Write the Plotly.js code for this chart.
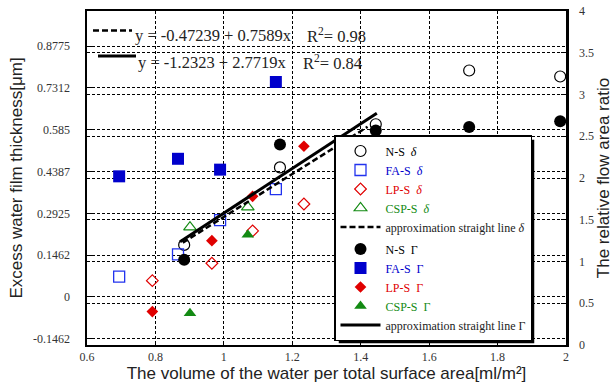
<!DOCTYPE html>
<html>
<head>
<meta charset="utf-8">
<script src="https://cdn.plot.ly/plotly-3.0.1.min.js"></script>
<style>html,body{margin:0;padding:0;background:#fff;}#chart{width:613px;height:388px;}</style>
</head>
<body>
<div id="chart"></div>
<script>
// ---- data ----
const nsX = [0.884, 1.164, 1.444, 1.717, 1.983];
const nsDelta = [0.182, 0.453, 0.604, 0.792, 0.771];
const nsGamma = [1.02, 2.40, 2.57, 2.61, 2.68];

const faX = [0.694, 0.866, 0.989, 1.152];
const faDelta = [0.071, 0.149, 0.269, 0.377];
const faGamma = [2.02, 2.23, 2.10, 3.15];

const lpX = [0.791, 0.965, 1.084, 1.234];
const lpDelta = [0.057, 0.118, 0.231, 0.325];
const lpGamma = [0.40, 1.25, 1.78, 2.38];

const cspX = [0.901, 1.070];
const cspDelta = [0.244, 0.314];
const cspGamma = [0.38, 1.32];

const fitDeltaX = [0.88, 1.42];
const fitDeltaY = [0.19, 0.595];
const fitGammaX = [0.872, 1.447];
const fitGammaY = [1.237, 2.775];

const leftTickVals = [-0.14625, 0, 0.14625, 0.2925, 0.43875, 0.585, 0.73125, 0.8775];
const leftTickText = ['-0.1462', '0', '0.1462', '0.2925', '0.4387', '0.585', '0.7312', '0.8775'];

const eq1 = 'y = -0.47239 + 0.7589x';
const eq2 = 'y = -1.2323 + 2.7719x';
const r1 = 'R<sup>2</sup>= 0.98';
const r2 = 'R<sup>2</sup>= 0.84';

// ---- styles ----
const BLUE = '#0000cc', RED = '#e00000', GREEN = '#138a13', BLACK = '#000000';
const NB = '\u00a0';
function nm(label, sym, color) {
  return '<span style="color:' + color + '">' + label + NB + NB + sym + '</span>';
}
const dSym = '<i>δ</i>', gSym = 'Γ';

const data = [
  {x: nsX, y: nsDelta, yaxis: 'y', type: 'scatter', mode: 'markers', name: nm('N-S', dSym, BLACK), legendgroup: 'd',
   marker: {symbol: 'circle-open', size: 11, color: BLACK, line: {width: 1.2}}},
  {x: faX, y: faDelta, yaxis: 'y', type: 'scatter', mode: 'markers', name: nm('FA-S', dSym, BLUE), legendgroup: 'd',
   marker: {symbol: 'square-open', size: 11, color: '#2233ee', line: {width: 1.3}}},
  {x: lpX, y: lpDelta, yaxis: 'y', type: 'scatter', mode: 'markers', name: nm('LP-S', dSym, RED), legendgroup: 'd',
   marker: {symbol: 'diamond-open', size: 9, color: RED, line: {width: 1.2}}},
  {x: cspX, y: cspDelta, yaxis: 'y', type: 'scatter', mode: 'markers', name: nm('CSP-S', dSym, GREEN), legendgroup: 'd',
   marker: {symbol: 'triangle-up-open', size: 11, color: GREEN, line: {width: 1.2}}},
  {x: fitDeltaX, y: fitDeltaY, yaxis: 'y', type: 'scatter', mode: 'lines', name: 'approximation straight line' + NB + dSym, legendgroup: 'd',
   line: {color: BLACK, width: 2.5, dash: '6px,3px'}},
  {x: nsX, y: nsGamma, yaxis: 'y2', type: 'scatter', mode: 'markers', name: nm('N-S', gSym, BLACK), legendgroup: 'g',
   marker: {symbol: 'circle', size: 12, color: BLACK}},
  {x: faX, y: faGamma, yaxis: 'y2', type: 'scatter', mode: 'markers', name: nm('FA-S', gSym, BLUE), legendgroup: 'g',
   marker: {symbol: 'square', size: 12, color: BLUE}},
  {x: lpX, y: lpGamma, yaxis: 'y2', type: 'scatter', mode: 'markers', name: nm('LP-S', gSym, RED), legendgroup: 'g',
   marker: {symbol: 'diamond', size: 9, color: RED}},
  {x: cspX, y: cspGamma, yaxis: 'y2', type: 'scatter', mode: 'markers', name: nm('CSP-S', gSym, GREEN), legendgroup: 'g',
   marker: {symbol: 'triangle-up', size: 11, color: GREEN}},
  {x: fitGammaX, y: fitGammaY, yaxis: 'y2', type: 'scatter', mode: 'lines', name: 'approximation straight line' + NB + gSym, legendgroup: 'g',
   line: {color: BLACK, width: 3}}
];

const L = 87, R = 566, T = 11, B = 345;
const px = v => (v - L) / (R - L);
const py = v => (B - v) / (B - T);

const gridStyle = {showgrid: true, gridcolor: '#000', gridwidth: 1, griddash: '3px,2px'};
const tickFont = {family: 'Liberation Serif, Times New Roman, serif', size: 12, color: '#333'};
const titleFont = {family: 'Liberation Sans, Arial, sans-serif', size: 17, color: '#222'};

const baseShapes = [
  {type: 'line', xref: 'paper', yref: 'paper', x0: px(93), x1: px(132), y0: py(30.5), y1: py(30.5),
   line: {color: '#000', width: 2.5, dash: '6px,3px'}},
  {type: 'line', xref: 'paper', yref: 'paper', x0: px(98), x1: px(136), y0: py(56), y1: py(56),
   line: {color: '#000', width: 3}}
];

const annFont = {family: 'Liberation Serif, Times New Roman, serif', size: 16.5, color: '#222'};
const layout = {
  width: 613, height: 388,
  margin: {l: L, r: 613 - R, t: T, b: 388 - B},
  paper_bgcolor: '#fff', plot_bgcolor: '#fff',
  showlegend: true,
  font: {family: 'Liberation Serif, Times New Roman, serif', size: 12, color: '#222'},
  xaxis: Object.assign({
    range: [0.6, 2.0], tick0: 0.6, dtick: 0.2, zeroline: false,
    showline: true, mirror: true, linecolor: '#000', linewidth: 2,
    ticks: 'inside', ticklen: 4, tickcolor: '#000', tickfont: tickFont,
    title: {text: 'The volume of the water per total surface area[ml/m²]', font: titleFont, standoff: 4}
  }, gridStyle),
  yaxis: Object.assign({
    range: [-0.168, 1.0], tickmode: 'array', tickvals: leftTickVals, ticktext: leftTickText, zeroline: false,
    showline: true, linecolor: '#000', linewidth: 2.5,
    ticks: 'inside', ticklen: 5, tickcolor: '#000', tickfont: tickFont, ticklabelstandoff: 12,
    title: {text: 'Excess water film thickness[μm]', font: titleFont, standoff: 6}
  }, gridStyle),
  yaxis2: Object.assign({
    overlaying: 'y', side: 'right', range: [0, 4], dtick: 0.5, zeroline: false,
    showline: true, linecolor: '#000', linewidth: 2.5,
    ticks: 'inside', ticklen: 5, tickcolor: '#000', tickfont: tickFont, ticklabelstandoff: 8,
    title: {text: 'The relative flow area ratio', font: titleFont, standoff: 13}
  }, gridStyle),
  legend: {
    x: px(334), y: py(341), xanchor: 'left', yanchor: 'bottom',
    bgcolor: '#fff', bordercolor: '#000', borderwidth: 1.5,
    font: {family: 'Liberation Serif, Times New Roman, serif', size: 12, color: '#222'},
    itemwidth: 40, tracegroupgap: 3, traceorder: 'grouped'
  },
  shapes: baseShapes,
  annotations: [
    {xref: 'paper', yref: 'paper', x: px(133), y: py(36), xanchor: 'left', yanchor: 'middle', text: eq1, showarrow: false, font: annFont},
    {xref: 'paper', yref: 'paper', x: px(305), y: py(35), xanchor: 'left', yanchor: 'middle', text: r1, showarrow: false, font: annFont},
    {xref: 'paper', yref: 'paper', x: px(136), y: py(62), xanchor: 'left', yanchor: 'middle', text: eq2, showarrow: false, font: annFont},
    {xref: 'paper', yref: 'paper', x: px(301), y: py(62), xanchor: 'left', yanchor: 'middle', text: r2, showarrow: false, font: annFont}
  ]
};

const gd = document.getElementById('chart');
Plotly.newPlot(gd, data, layout, {staticPlot: true}).then(function () {
  const bg = gd.querySelector('.legend .bg');
  if (!bg) return;
  const r = bg.getBoundingClientRect();
  const g = gd.getBoundingClientRect();
  const left = r.left - g.left, right = r.right - g.left, top = r.top - g.top, bottom = r.bottom - g.top;
  const toggles = gd.querySelectorAll('.legend .traces .legendtoggle');
  const shapes = baseShapes.slice();
  shapes.push({type: 'rect', xref: 'paper', yref: 'paper', layer: 'above',
    x0: px(left + 4), x1: px(right + 3), y0: py(top + 4), y1: py(bottom + 3),
    fillcolor: '#000', line: {width: 0}});
  if (toggles.length >= 6) {
    const a = toggles[4].getBoundingClientRect();
    const b = toggles[5].getBoundingClientRect();
    const yd = ((a.bottom + b.top) / 2) - g.top;
    shapes.push({type: 'line', xref: 'paper', yref: 'paper', layer: 'above',
      x0: px(left), x1: px(right), y0: py(yd), y1: py(yd), line: {color: '#000', width: 1.2}});
  }
  return Plotly.relayout(gd, {shapes: shapes});
});
</script>
</body>
</html>
